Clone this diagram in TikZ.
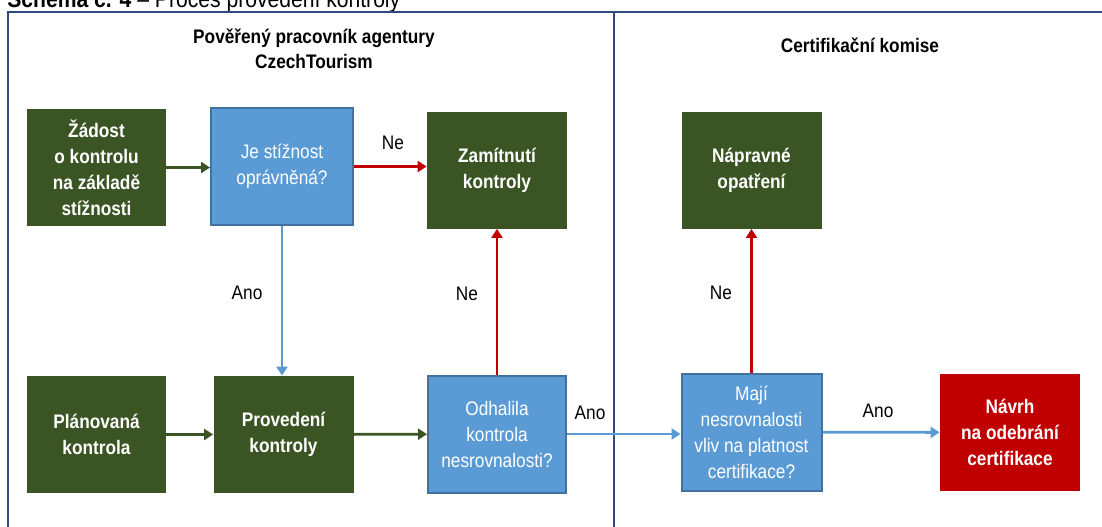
\documentclass[tikz,border=0pt]{standalone}
\usepackage{fontspec}
\setmainfont{Liberation Sans}[FakeStretch = 0.88]
\usetikzlibrary{arrows.meta}

\definecolor{boxgreen}{HTML}{3A5424}
\definecolor{boxblue}{HTML}{5B9BD5}
\definecolor{blueedge}{HTML}{41719C}
\definecolor{boxred}{HTML}{C00000}
\definecolor{frameblue}{HTML}{2F4A7C}

\tikzset{
  box/.style = {minimum width = 70pt, minimum height = 58.5pt, inner sep = 1pt,
    align = center, text = white, font = \fontsize{9.8}{13}\selectfont},
  greenbox/.style = {box, fill = boxgreen, font = \bfseries\fontsize{9.8}{13}\selectfont},
  redbox/.style = {box, fill = boxred, font = \bfseries\fontsize{9.8}{13}\selectfont},
  bluebox/.style = {box, fill = boxblue, draw = blueedge, line width = 1pt},
  arr/.style = {line width = 1.4pt, -{Triangle[length = 4.5pt, width = 5.5pt]}},
  lab/.style = {font = \fontsize{9.8}{12}\selectfont}
}

\begin{document}
\begin{tikzpicture}
        [x = .5pt, y = -.5pt]

        \useasboundingbox (0,0) rectangle (1102,526);
        \node[anchor = base west, inner sep = 0pt] (title) at (7,7)
          {\fontsize{12}{14}\selectfont\textbf{Schéma č. 4} – Proces provedení kontroly};

        % frame
        \draw[frameblue, line width = .8pt] (8,560) |- (1120,12);
        \draw[frameblue, line width = .8pt] (614,12) -- (614,560);
        \node[lab, font = \bfseries\fontsize{9.8}{12.5}\selectfont, align = center] (agentura) at (314,49)
          {Pověřený pracovník agentury\\CzechTourism};
        \node[lab, font = \bfseries\fontsize{9.8}{12.5}\selectfont] (komise) at (860,45) {Certifikační komise};

        % boxes
        \node[greenbox, minimum width = 69.5pt] (zadost) at (96.5,167.5)
          {Žádost\\o kontrolu\\na základě\\stížnosti};
        \node[bluebox, minimum width = 71pt] (stiznost) at (282,166.5) {Je stížnost\\oprávněná?};
        \node[greenbox] (zamitnuti) at (497,170) {Zamítnutí\\kontroly};
        \node[greenbox, minimum width = 69.5pt] (planovana) at (96.5,434.5) {Plánovaná\\kontrola};
        \node[greenbox] (provedeni) at (283.5,434.5) {Provedení\\kontroly};
        \node[bluebox, minimum width = 69pt] (odhalila) at (497,434)
          {Odhalila\\kontrola\\nesrovnalosti?};
        \node[greenbox] (napravne) at (751.5,170) {Nápravné\\opatření};
        \node[bluebox, minimum width = 70pt] (maji) at (751.5,432)
          {Mají\\nesrovnalosti\\vliv na platnost\\certifikace?};
        \node[redbox] (navrh) at (1010,432.5) {Návrh\\na odebrání\\certifikace};

        % connectors
        \draw[arr, boxgreen] (zadost.east) -- (zadost.east -| stiznost.west);
        \draw[arr, boxred] (stiznost.east) -- (stiznost.east -| zamitnuti.west);
        \draw[arr, boxblue] (stiznost.south) -- (stiznost.south |- provedeni.north);
        \draw[arr, boxgreen] (planovana) -- (provedeni);
        \draw[arr, boxgreen] (provedeni) -- (odhalila);
        \draw[arr, boxred] (odhalila) -- (zamitnuti);
        \draw[arr, boxblue] (odhalila.east) -- (odhalila.east -| maji.west);
        \draw[arr, boxred] (maji) -- (napravne);
        \draw[arr, boxblue] (maji) -- (navrh);

        % labels
        \node[lab] (ne1) at (393,143) {Ne};
        \node[lab] (ano1) at (247,293) {Ano};
        \node[lab] (ne2) at (467,294) {Ne};
        \node[lab] (ano2) at (590,413) {Ano};
        \node[lab] (ne3) at (721,293) {Ne};
        \node[lab] (ano3) at (878,411) {Ano};
      \end{tikzpicture}
\end{document}
